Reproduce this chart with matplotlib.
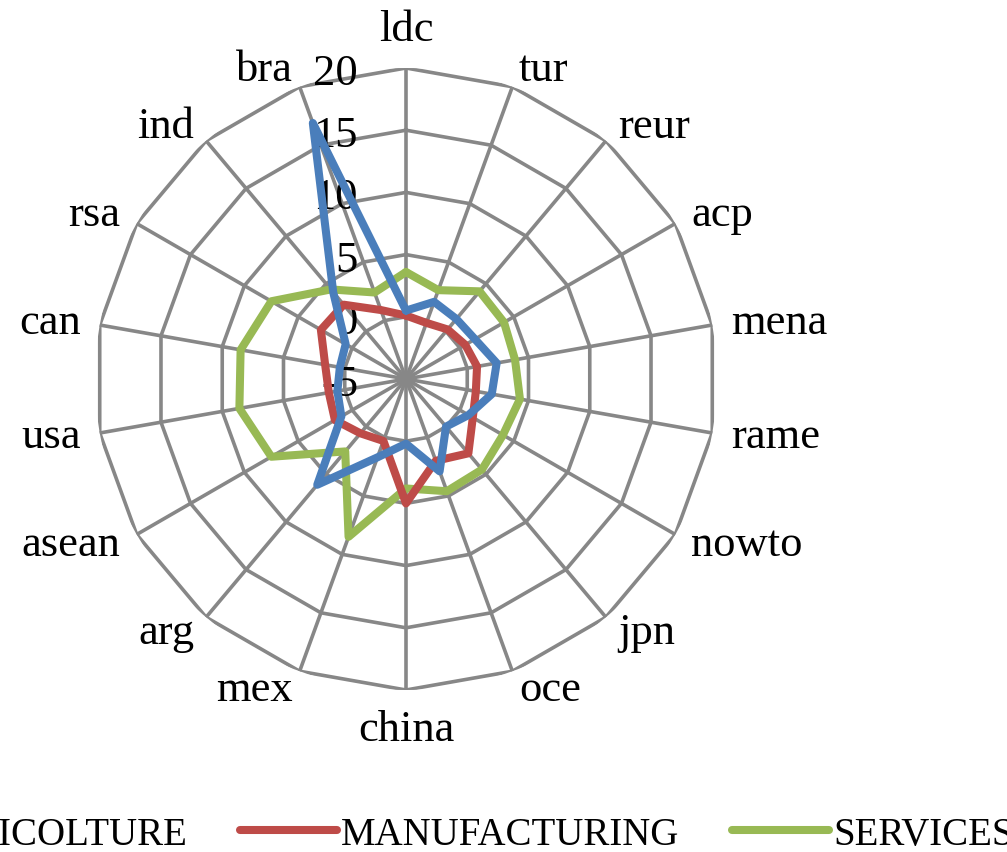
import numpy as np
import matplotlib
matplotlib.use("Agg")
import matplotlib.pyplot as plt
from matplotlib.transforms import offset_copy

regioni = ["ldc", "tur", "reur", "acp", "mena", "rame", "nowto", "jpn", "oce",
           "china", "mex", "arg", "asean", "usa", "can", "rsa", "ind", "bra"]

agricolture = [0.5, 1.6, 1.3, 1.4, 2.4, 2.0, 0.8, 0.0, 2.9,
               0.2, 1.7, 6.1, 1.0, 0.6, 0.4, 0.6, 4.1, 16.9]
manufacturing = [0.1, -0.2, 0.2, 0.5, 0.8, 0.7, 1.2, 2.8, 2.0,
                 5.0, 0.3, 0.7, 1.6, 1.3, 1.6, 2.9, 2.8, 0.9]
services = [3.6, 2.6, 4.2, 4.1, 3.9, 4.3, 4.0, 4.5, 4.6,
            3.8, 8.5, 2.6, 7.5, 8.6, 8.5, 7.5, 4.4, 2.4]

tacche = [-5, 0, 5, 10, 15, 20]

serie = [("AGRICOLTURE", agricolture, "#4A7EBB"),
         ("MANUFACTURING", manufacturing, "#BE4B48"),
         ("SERVICES", services, "#98B954")]

griglia = "#878787"
font = "Liberation Serif"

fig = plt.figure(figsize=(10.07, 8.53), dpi=100)
W, H = 1007, 853
cx, cy, R = 406, 380, 311
ax = fig.add_axes([(cx - R) / W, (H - cy - R) / H, 2 * R / W, 2 * R / H],
                  projection="polar")
ax.set_theta_zero_location("N")
ax.set_theta_direction(-1)
ax.set_ylim(tacche[0], tacche[-1])
ax.set_xticks([])
ax.set_yticks([])
ax.grid(False)
ax.spines["polar"].set_visible(False)
ax.patch.set_visible(False)

n = len(regioni)
ang = np.arange(n) * 2 * np.pi / n
ang_c = np.append(ang, ang[0])

# griglia poligonale
for a in ang:
    ax.plot([a, a], [tacche[0], tacche[-1]], color=griglia, lw=2.6, zorder=1)
for t in tacche[1:]:
    ax.plot(ang_c, [t] * (n + 1), color=griglia, lw=2.6, zorder=1)

linee = []
zo = {"AGRICOLTURE": 5, "MANUFACTURING": 4, "SERVICES": 3}
for nome, vals, col in serie:
    v = np.append(vals, vals[0])
    l, = ax.plot(ang_c, v, color=col, lw=5.8, label=nome, zorder=zo[nome],
                 solid_joinstyle="round", solid_capstyle="round")
    linee.append(l)

# etichette delle regioni
for a, nome in zip(ang, regioni):
    s, c = np.sin(a), np.cos(a)
    ha = "left" if s > 0.05 else ("right" if s < -0.05 else "center")
    va = "bottom" if c > 0.95 else ("top" if c < -0.95 else "center")
    ax.text(a, 21.5, nome, ha=ha, va=va, fontsize=32, family=font,
            clip_on=False)

# valori dell'asse
tr = offset_copy(ax.transData, fig=fig, x=-48, y=-5, units="dots")
for t in tacche:
    ax.text(0, t, str(t), transform=tr, ha="right", va="center",
            fontsize=32, family=font, clip_on=False)

fig.legend(handles=linee, loc="center", bbox_to_anchor=(0.4117, 0.021),
           ncol=3, frameon=False, prop={"family": font, "size": 28},
           handlelength=2.5, handletextpad=0.1, columnspacing=1.35)

fig.savefig("out.png", dpi=100)
